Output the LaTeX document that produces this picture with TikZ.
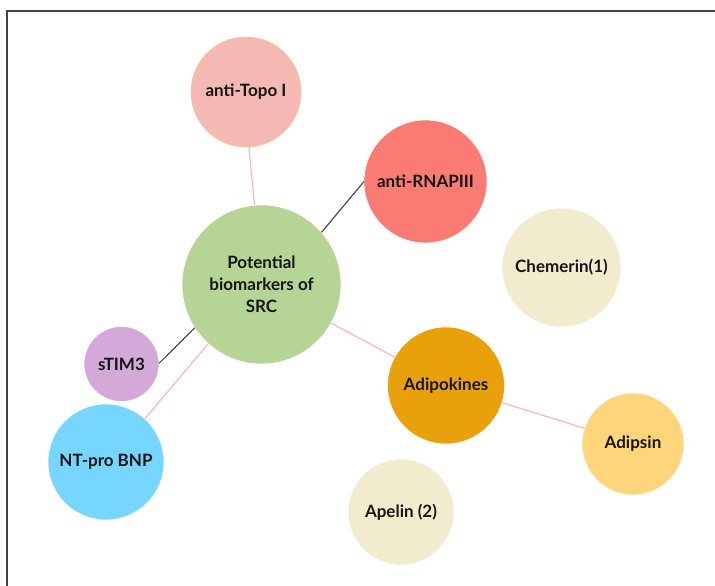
\documentclass[tikz,border=0pt]{standalone}
\usepackage{fontspec}
\setmainfont{Lato}
\definecolor{cTopo}{HTML}{F4B9B2}
\definecolor{cTopoB}{HTML}{F7C48E}
\definecolor{cRNAP}{HTML}{FA7B73}
\definecolor{cCentral}{HTML}{B6D496}
\definecolor{cPale}{HTML}{F2ECCE}
\definecolor{cTIM}{HTML}{D3A9D8}
\definecolor{cBNP}{HTML}{76D6FF}
\definecolor{cAdipo}{HTML}{E8A10A}
\definecolor{cAdipsin}{HTML}{FFD57B}
\definecolor{cPink}{HTML}{FFB4BC}
\definecolor{cDark}{HTML}{4D4D4D}
\definecolor{cText}{HTML}{151515}
\definecolor{cFrame}{HTML}{444444}
\tikzset{
  bubble/.style={circle, inner sep=0pt, outer sep=0pt, draw=white, line width=0.6pt,
    font=\bfseries\fontsize{17}{22}\selectfont, text=cText, align=center},
  pinkline/.style={draw=cPink, line width=1.2pt},
  darkline/.style={draw=cDark, line width=1.2pt},
}
\begin{document}
\begin{tikzpicture}[x=1pt,y=-1pt]
\useasboundingbox (0,0) rectangle (715,586);
\fill[white] (0,0) rectangle (715,586);
\draw[cFrame, line width=1.2pt] (7,600) -- (7,11) -- (720,11);

\node[bubble, fill=cTopo, draw=cTopoB, minimum size=110pt] (topo) at (246,92) {anti-Topo I};
\node[bubble, fill=cRNAP, minimum size=123pt] (rnap) at (425.5,181.5) {anti-RNAPIII};
\node[bubble, fill=cCentral, minimum size=159pt] (central) at (261.5,284.5) {Potential\\biomarkers of\\SRC};
\node[bubble, fill=cPale, minimum size=119pt] (chem) at (561.5,267.5) {Chemerin(1)};
\node[bubble, fill=cTIM, minimum size=75pt] (tim) at (121.5,364) {sTIM3};
\node[bubble, fill=cBNP, minimum size=116pt] (bnp) at (106,462) {NT-pro BNP};
\node[bubble, fill=cAdipo, minimum size=117pt] (adipo) at (446,385.5) {Adipokines};
\node[bubble, fill=cAdipsin, minimum size=102pt] (adipsin) at (633,444) {Adipsin};
\node[bubble, fill=cPale, minimum size=106pt] (apelin) at (401,512) {Apelin (2)};

\draw[pinkline] (topo.-87) -- (central.95.5);
\draw[darkline] (central.41) -- (rnap.180);
\draw[darkline] (central.213.4) -- (tim.1.5);
\draw[pinkline] (central.228.6) -- (bnp.48.4);
\draw[pinkline] (central.-29) -- (adipo.151.7);
\draw[pinkline] (adipo.-17.4) -- (adipsin.162.3);
\end{tikzpicture}
\end{document}
